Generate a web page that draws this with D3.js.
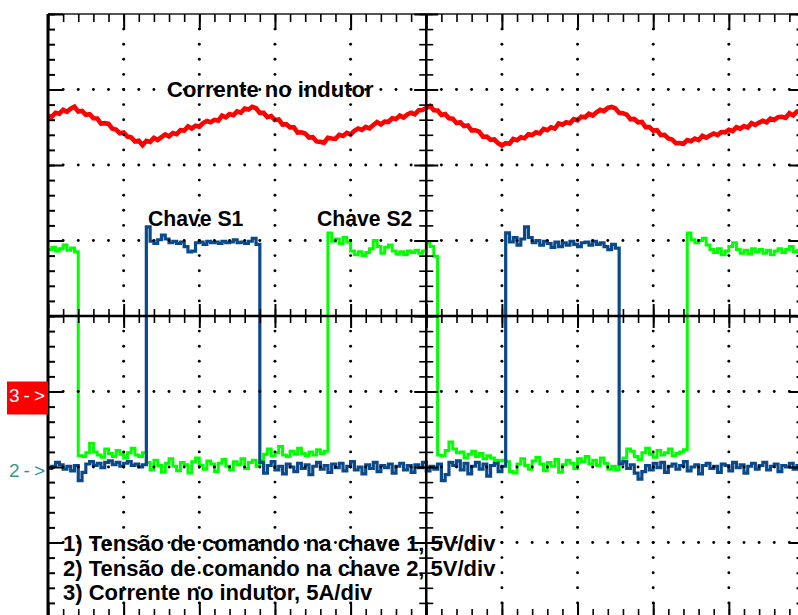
<!DOCTYPE html>
<html>
<head>
<meta charset="utf-8">
<script src="https://cdn.jsdelivr.net/npm/d3@7"></script>
<style>
  html, body { margin: 0; padding: 0; background: #fff; }
  svg { display: block; }
</style>
</head>
<body>
<svg id="scope" width="798" height="615"></svg>
<script>
// Graticule: 10 x 8 divisions, 5 subdivisions per division
const H_DIVS = 10, V_DIVS = 8, SUBDIVS = 5;
// Acquisition record: one sample every 0.05 horizontal division
const SAMPLE_DIV = 0.05;

// Channel settings: sensitivity per division and reference level (divisions from centre)
const ch1Setup = { perDiv: 5, ref: -2, color: "#0b4a8a" };   // 5 V/div
const ch2Setup = { perDiv: 5, ref: -2, color: "#00ff00" };   // 5 V/div
const ch3Setup = { perDiv: 5, ref: -1, color: "#ff0000" };   // 5 A/div

// Channel 3: inductor current (A)
const ch3Amps = [
  18.24,18.19,18.46,18.40,18.65,18.52,18.73,18.86,18.54,18.58,
  18.32,18.36,18.10,18.08,17.74,17.77,17.72,17.40,17.35,17.10,
  17.15,16.88,16.83,16.56,16.60,16.31,16.60,16.53,16.80,16.66,
  16.85,17.03,16.89,17.12,17.04,17.31,17.28,17.55,17.41,17.60,
  17.54,17.78,17.91,17.83,17.99,17.93,18.27,18.16,18.37,18.30,
  18.55,18.47,18.74,18.67,18.85,18.76,18.45,18.45,18.17,18.24,
  17.98,18.01,17.68,17.70,17.49,17.49,17.15,17.17,17.09,16.82,
  16.84,16.56,16.53,16.48,16.80,16.76,16.73,17.00,16.92,17.12,
  17.02,17.27,17.42,17.32,17.52,17.43,17.65,17.84,17.69,17.87,
  17.86,18.09,18.04,18.27,18.14,18.35,18.46,18.36,18.63,18.64,
  18.78,18.92,18.63,18.61,18.32,18.38,18.09,18.07,17.78,17.83,
  17.58,17.62,17.29,17.29,17.21,16.87,16.88,16.67,16.69,16.45,
  16.29,16.45,16.41,16.72,16.64,16.84,16.77,17.04,16.98,17.16,
  17.09,17.39,17.30,17.50,17.41,17.75,17.67,17.83,17.77,18.04,
  17.96,18.20,18.16,18.39,18.28,18.49,18.66,18.57,18.78,18.84,
  18.75,18.45,18.43,18.34,18.02,18.05,17.83,17.85,17.51,17.51,
  17.28,17.31,16.98,17.00,16.76,16.69,16.44,16.45,16.41,16.65,
  16.57,16.75,16.65,16.93,16.81,16.96,17.09,16.98,17.18,17.16,
  17.33,17.25,17.50,17.41,17.58,17.48,17.77,17.65,17.81,17.93,
  17.83,18.07,17.99,18.17,18.19,18.12,18.43,18.29,18.54,18.53
];

// Channel 1: gate command of switch S1 (V)
const ch1Volts = [
  -0.10,0.05,0.30,0.15,-0.15,0.05,-0.25,0.10,-0.90,-0.35,
  0.20,0.35,0.10,0.25,-0.05,0.30,0.40,0.15,0.30,0.05,
  0.25,0.35,0.10,0.20,0.00,0.15,15.90,14.95,14.80,15.05,
  15.35,15.10,14.85,14.95,14.80,14.90,14.60,14.25,14.30,14.85,
  14.90,14.75,14.95,14.85,14.90,14.80,14.95,14.85,14.90,15.05,
  14.85,14.90,14.80,14.95,15.15,14.75,0.30,-0.40,0.10,0.35,
  -0.20,0.05,-0.45,0.20,0.00,-0.30,0.25,-0.10,0.15,-0.50,
  0.05,0.30,-0.15,0.10,-0.35,0.20,-0.05,0.25,-0.25,0.05,
  0.35,-0.20,0.00,-0.45,0.15,-0.10,0.30,-0.30,0.10,-0.05,
  0.20,-0.40,0.05,0.25,-0.20,0.10,-0.35,0.15,-0.05,0.30,
  -0.25,0.05,-0.15,0.20,-0.90,-0.50,0.30,0.10,0.40,-0.20,
  0.25,-0.45,0.05,0.30,-0.15,0.20,-0.60,0.10,0.25,-0.30,
  0.05,15.50,14.90,15.20,14.70,15.10,15.90,15.20,14.85,15.00,
  14.70,14.95,14.80,14.55,14.90,14.60,14.85,14.70,14.95,14.75,
  14.60,14.85,14.90,14.70,14.95,14.75,14.85,14.60,14.40,14.75,
  14.50,0.20,0.35,-0.10,0.15,-0.40,-0.80,-0.30,0.10,-0.20,
  0.25,-0.05,0.30,-0.35,0.05,0.20,-0.15,0.10,0.35,-0.25,
  0.00,0.15,-0.45,0.10,0.25,-0.10,0.05,-0.35,0.20,0.10,
  -0.25,0.30,-0.05,0.15,-0.40,0.05,0.25,-0.15,0.10,0.30,
  -0.20,0.05,0.20,-0.30,0.10,0.00,0.25,-0.15,0.10,0.05
];

// Channel 2: gate command of switch S2 (V)
const ch2Volts = [
  14.40,14.55,14.30,14.45,14.70,14.35,14.50,14.25,0.75,0.70,
  0.95,1.55,1.00,0.80,0.65,1.20,0.90,0.70,1.10,0.85,
  0.60,0.95,1.25,0.80,0.70,0.95,0.30,-0.20,0.45,0.10,
  -0.35,0.25,0.55,0.05,-0.25,0.30,0.15,-0.40,0.35,0.60,
  0.10,-0.15,0.40,0.20,-0.30,0.25,0.50,0.05,-0.20,0.35,
  0.15,0.55,-0.10,0.30,0.45,0.05,0.40,0.85,1.20,0.75,
  0.95,1.35,0.80,0.70,1.05,0.85,1.25,0.90,0.75,1.00,
  0.80,1.15,0.90,1.05,15.50,14.95,15.10,14.80,15.20,14.90,
  14.30,14.05,14.25,14.00,14.20,14.45,15.00,14.60,14.15,14.55,
  14.70,14.30,14.10,14.25,14.05,14.30,14.20,14.35,14.15,14.30,
  14.85,14.60,13.95,0.80,0.75,1.10,1.65,1.20,0.95,1.00,
  0.60,0.85,1.05,0.70,0.90,0.55,0.75,0.60,0.45,0.40,
  0.45,0.35,-0.30,-0.40,0.20,0.55,0.10,-0.15,0.40,0.65,
  0.20,-0.25,0.30,0.05,0.50,-0.35,0.15,0.45,0.25,-0.10,
  0.55,0.35,0.70,0.20,0.45,0.10,0.60,0.25,-0.15,0.05,
  -0.20,0.30,0.60,1.20,1.05,0.70,0.50,0.95,1.25,0.85,
  0.65,1.10,0.80,0.95,1.20,0.75,0.90,1.00,1.15,15.50,
  15.05,14.85,15.00,15.15,14.70,14.40,14.20,14.45,14.05,14.30,
  14.60,14.85,14.40,14.15,14.35,14.10,14.45,14.25,14.40,14.15,
  14.35,14.05,14.30,14.45,14.20,14.40,14.60,14.25,14.35,14.30
];

// Annotation texts
const titleText = "Corrente no indutor";
const switchLabels = ["Chave S1", "Chave S2"];
const legendLines = [
  "1) Tensão de comando na chave 1, 5V/div",
  "2) Tensão de comando na chave 2, 5V/div",
  "3) Corrente no indutor, 5A/div"
];
const refMarkers = ["3->", "2->"];

// ---------------------------------------------------------------------------
const svg = d3.select("#scope");
const FONT = "'Liberation Sans', Arial, Helvetica, sans-serif";

const x = d3.scaleLinear().domain([0, H_DIVS]).range([48, 48 + H_DIVS * 75.65]);
const y = d3.scaleLinear().domain([-V_DIVS / 2, V_DIVS / 2]).range([14 + V_DIVS * 75.5, 14]);

const minorX = d3.range(0, H_DIVS * SUBDIVS + 1).map(k => k / SUBDIVS);
const majorX = d3.range(0, H_DIVS + 1);
const minorY = d3.range(-V_DIVS / 2 * SUBDIVS, V_DIVS / 2 * SUBDIVS + 1).map(k => k / SUBDIVS);
const majorY = d3.range(-V_DIVS / 2, V_DIVS / 2 + 1);

// Text layer (under the traces and graticule)
const textLayer = svg.append("g")
  .attr("font-family", FONT).attr("font-weight", "bold").attr("fill", "#000");

textLayer.append("text").attr("x", 167).attr("y", 96.5)
  .attr("font-size", 22).text(titleText);

textLayer.selectAll("text.sw").data(switchLabels).join("text")
  .attr("class", "sw")
  .attr("x", (d, i) => [148, 317][i]).attr("y", 226)
  .attr("font-size", 21.2).text(d => d);

textLayer.selectAll("text.leg").data(legendLines).join("text")
  .attr("class", "leg")
  .attr("x", 63).attr("y", (d, i) => 551 + i * 24.5)
  .attr("font-size", 22).text(d => d);

// Traces
function tracePath(values, setup, curve) {
  return d3.line()
    .x((d, i) => x(i * SAMPLE_DIV))
    .y(d => y(d / setup.perDiv + setup.ref))
    .curve(curve)(values);
}
const traceLayer = svg.append("g").attr("fill", "none");
traceLayer.append("path").attr("d", tracePath(ch3Amps, ch3Setup, d3.curveLinear))
  .attr("stroke", ch3Setup.color).attr("stroke-width", 4.6)
  .attr("stroke-linejoin", "miter").attr("stroke-miterlimit", 6);
traceLayer.append("path").attr("d", tracePath(ch2Volts, ch2Setup, d3.curveStepAfter))
  .attr("stroke", ch2Setup.color).attr("stroke-width", 3);
traceLayer.append("path").attr("d", tracePath(ch1Volts, ch1Setup, d3.curveStepAfter))
  .attr("stroke", ch1Setup.color).attr("stroke-width", 3.2);

// Graticule drawn over the traces
const grat = svg.append("g");

// Dotted division lines
const dots = [];
majorX.filter(k => k > 0 && k < H_DIVS && k !== H_DIVS / 2).forEach(k =>
  minorY.filter(v => Math.abs(v) < V_DIVS / 2 && v !== 0).forEach(v => dots.push([k, v])));
majorY.filter(j => Math.abs(j) < V_DIVS / 2 && j !== 0).forEach(j =>
  minorX.filter(v => v > 0 && v < H_DIVS && v !== H_DIVS / 2).forEach(v => dots.push([v, j])));
grat.append("g").selectAll("circle").data(dots).join("circle")
  .attr("cx", d => x(d[0])).attr("cy", d => y(d[1])).attr("r", 1.45).attr("fill", "#000");

function tickRow(axisFn, scale, values, size, transform, width) {
  const g = grat.append("g").attr("transform", transform)
    .call(axisFn(scale).tickValues(values).tickSize(size).tickSizeOuter(0).tickFormat(() => ""));
  g.select(".domain").remove();
  g.selectAll(".tick line").attr("stroke", "#000").attr("stroke-width", width);
}

// Border lines
grat.append("line").attr("x1", x(0)).attr("x2", x(H_DIVS)).attr("y1", y(V_DIVS / 2)).attr("y2", y(V_DIVS / 2))
  .attr("stroke", "#555").attr("stroke-width", 2);
grat.append("line").attr("x1", x(0)).attr("x2", x(H_DIVS)).attr("y1", y(-V_DIVS / 2)).attr("y2", y(-V_DIVS / 2))
  .attr("stroke", "#000").attr("stroke-width", 2);
grat.append("line").attr("x1", x(0)).attr("x2", x(0)).attr("y1", y(V_DIVS / 2)).attr("y2", y(-V_DIVS / 2))
  .attr("stroke", "#000").attr("stroke-width", 3);
grat.append("line").attr("x1", x(H_DIVS)).attr("x2", x(H_DIVS)).attr("y1", y(V_DIVS / 2)).attr("y2", y(-V_DIVS / 2))
  .attr("stroke", "#000").attr("stroke-width", 3);

// Border ticks
tickRow(d3.axisBottom, x, minorX, 8, `translate(0,${y(V_DIVS / 2)})`, 1.6);
tickRow(d3.axisBottom, x, majorX, 16, `translate(0,${y(V_DIVS / 2)})`, 2);
tickRow(d3.axisTop, x, minorX, 9, `translate(0,${y(-V_DIVS / 2)})`, 1.6);
tickRow(d3.axisTop, x, majorX, 16, `translate(0,${y(-V_DIVS / 2)})`, 2);
tickRow(d3.axisRight, y, minorY, 7, `translate(${x(0)},0)`, 2);
tickRow(d3.axisRight, y, majorY, 15, `translate(${x(0)},0)`, 2);
tickRow(d3.axisLeft, y, minorY, 8, `translate(${x(H_DIVS)},0)`, 2);
tickRow(d3.axisLeft, y, majorY, 15, `translate(${x(H_DIVS)},0)`, 2);

// Centre axes
grat.append("line").attr("x1", x(0)).attr("x2", x(H_DIVS)).attr("y1", y(0)).attr("y2", y(0))
  .attr("stroke", "#000").attr("stroke-width", 2.5);
grat.append("line").attr("x1", x(H_DIVS / 2)).attr("x2", x(H_DIVS / 2)).attr("y1", y(V_DIVS / 2)).attr("y2", y(-V_DIVS / 2))
  .attr("stroke", "#000").attr("stroke-width", 2.5);
tickRow(d3.axisTop, x, minorX, 7, `translate(0,${y(0)})`, 1.6);
tickRow(d3.axisBottom, x, minorX, 7, `translate(0,${y(0)})`, 1.6);
tickRow(d3.axisTop, x, majorX, 12, `translate(0,${y(0)})`, 2);
tickRow(d3.axisBottom, x, majorX, 12, `translate(0,${y(0)})`, 2);
tickRow(d3.axisLeft, y, minorY, 7, `translate(${x(H_DIVS / 2)},0)`, 1.6);
tickRow(d3.axisRight, y, minorY, 7, `translate(${x(H_DIVS / 2)},0)`, 1.6);
tickRow(d3.axisLeft, y, majorY, 12, `translate(${x(H_DIVS / 2)},0)`, 2);
tickRow(d3.axisRight, y, majorY, 12, `translate(${x(H_DIVS / 2)},0)`, 2);

// Channel reference markers
const mk = svg.append("g").attr("font-family", FONT).attr("font-size", 19).attr("letter-spacing", 4);
mk.append("rect").attr("x", 7).attr("y", y(ch3Setup.ref) - 10).attr("width", x(0) - 7).attr("height", 33)
  .attr("fill", "#ff0000");
mk.append("text").attr("x", 9).attr("y", y(ch3Setup.ref) + 10.5).attr("fill", "#fff").text(refMarkers[0]);
const m2 = mk.append("text").attr("x", 9).attr("y", y(ch2Setup.ref) + 10);
m2.append("tspan").attr("fill", "#3a9a80").text(refMarkers[1].slice(0, 1));
m2.append("tspan").attr("fill", "#3388a8").text(refMarkers[1].slice(1));
</script>
</body>
</html>
